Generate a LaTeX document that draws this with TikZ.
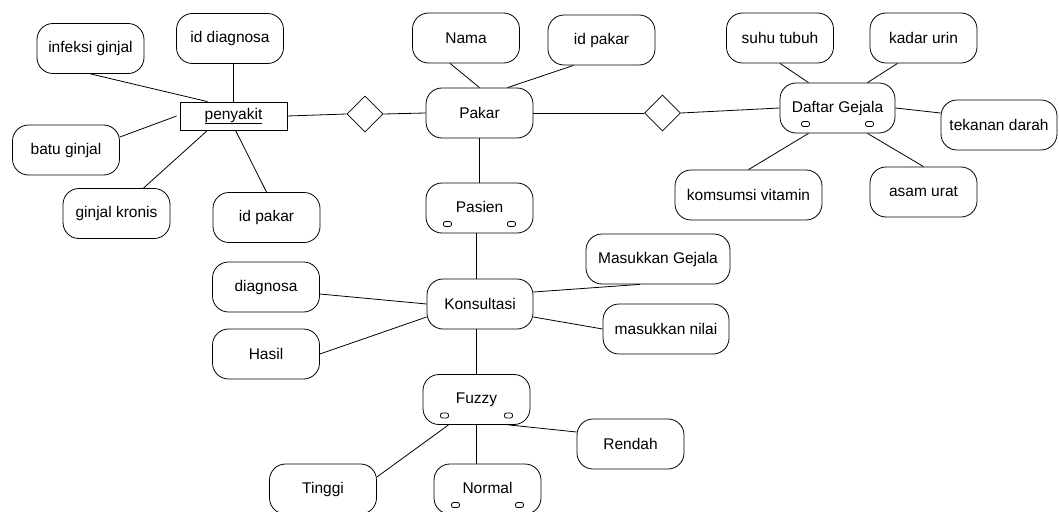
\documentclass[tikz,border=0pt]{standalone}
\usepackage{fontspec}
\setmainfont{Liberation Sans}
\usetikzlibrary{shapes.geometric}
\tikzset{
  attr/.style={draw, line width=0.8pt, rounded corners=16pt, minimum width=107pt, minimum height=50pt, inner sep=0pt, font=\fontsize{15.5}{18}\selectfont},
  entity/.style={draw, line width=0.8pt, minimum width=107pt, minimum height=28pt, inner sep=0pt, font=\fontsize{15.5}{18}\selectfont},
  rel/.style={draw, line width=0.8pt, diamond, shape aspect=1, minimum width=36pt, minimum height=36pt, inner sep=0pt},
  slot/.style={draw, line width=0.8pt, rounded corners=2pt, minimum width=8pt, minimum height=5pt, inner sep=0pt},
  link/.style={line width=0.8pt}
}
\newcommand\slotpair[1]{%
  \node[slot] (#1-sl) at ([xshift=-32pt,yshift=-16pt]#1.center) {};
  \node[slot] (#1-sr) at ([xshift=32pt,yshift=-16pt]#1.center) {};
}
\begin{document}
\begin{tikzpicture}[x=1pt,y=-1pt]
\useasboundingbox (0,0) rectangle (1059,511);
\fill[white] (0,0) rectangle (1059,511);

% left cluster
\node[attr] (infeksi) at (90.5,48.5) {infeksi ginjal};
\node[attr] (iddiag) at (230,38.5) {id diagnosa};
\node[entity] (penyakit) at (233.5,116) {\underline{penyakit}};
\node[attr] (batu) at (66,150) {batu ginjal};
\node[attr] (kronis) at (116.5,213.5) {ginjal kronis};
\node[attr] (idpakarL) at (266.5,217.5) {id pakar};
\node[rel] (dL) at (365,114) {};

% centre
\node[attr] (nama) at (466,38) {Nama};
\node[attr] (idpakarT) at (601.5,40) {id pakar};
\node[attr] (pakar) at (479.5,113) {Pakar};
\node[attr] (pasien) at (479.5,208) {\raisebox{3pt}{Pasien}};
\slotpair{pasien}
\node[rel] (dR) at (662.5,113) {};

% right cluster
\node[attr] (sunu) at (780,38) {suhu tubuh};
\node[attr] (kadar) at (923.5,38) {kadar urin};
\node[attr, minimum width=115pt] (gejala) at (837.5,108) {\raisebox{3pt}{Daftar Gejala}};
\slotpair{gejala}
\node[attr, minimum width=116pt] (tekanan) at (999,125) {tekanan darah};
\node[attr, minimum width=147pt] (komsumsi) at (748.5,195) {komsumsi vitamin};
\node[attr] (asam) at (923.5,192) {asam urat};

% lower
\node[attr, minimum width=144pt] (masukG) at (658,259) {Masukkan Gejala};
\node[attr] (diagnosa) at (266,287) {diagnosa};
\node[attr, minimum width=106pt] (konsul) at (480,304) {Konsultasi};
\node[attr, minimum width=126pt] (masukN) at (666,329) {masukkan nilai};
\node[attr] (hasil) at (266,354) {Hasil};
\node[attr] (fuzzy) at (476.5,399.5) {\raisebox{3pt}{Fuzzy}};
\slotpair{fuzzy}
\node[attr] (rendah) at (630.5,444) {Rendah};
\node[attr] (tinggi) at (323,489) {Tinggi};
\node[attr] (normal) at (487.5,489) {\raisebox{3pt}{Normal}};
\slotpair{normal}

% connectors: penyakit
\draw[link] (infeksi.south) -- ([xshift=-26pt]penyakit.north);
\draw[link] (penyakit.north) -- (penyakit.north |- iddiag.south);
\draw[link] ([yshift=13pt]batu.east) -- ([xshift=-3pt]penyakit.west);
\draw[link] ([xshift=27pt]kronis.north) -- ([xshift=-26pt]penyakit.south);
\draw[link] (idpakarL.north) -- ([xshift=2pt]penyakit.south);
\draw[link] (penyakit.east) -- (dL.west);
\draw[link] (dL.east) -- (pakar.west);

% pakar
\draw[link] ([xshift=-16pt]nama.south) -- (pakar.north);
\draw[link] ([xshift=-28pt]idpakarT.south) -- ([xshift=28pt]pakar.north);
\draw[link] (pakar.east) -- (dR.west);
\draw[link] (dR.east) -- (gejala.west);
\draw[link] (pakar.south) -- (pasien.north);

% gejala
\draw[link] (sunu.south) -- ([xshift=-29pt]gejala.north);
\draw[link] ([xshift=-26pt]kadar.south) -- ([xshift=30pt]gejala.north);
\draw[link] (gejala.east) -- ([yshift=12pt]tekanan.west);
\draw[link] ([xshift=-29pt]gejala.south) -- (komsumsi.north);
\draw[link] ([xshift=30pt]gejala.south) -- (asam.north);

% konsultasi
\draw[link] ([xshift=-3pt]pasien.south) -- ([xshift=-3pt]pasien.south |- konsul.north);
\draw[link] ([yshift=-7pt]diagnosa.east) -- (konsul.west);
\draw[link] (hasil.east) -- ([yshift=-13pt]konsul.west);
\draw[link] ([yshift=12pt]konsul.east) -- ([xshift=-18pt]masukG.south);
\draw[link] ([yshift=-13pt]konsul.east) -- (masukN.west);
\draw[link] (fuzzy.north) -- (fuzzy.north |- konsul.south);

% fuzzy
\draw[link] ([xshift=32pt]fuzzy.south) -- ([yshift=12pt]rendah.west);
\draw[link] ([xshift=-28pt]fuzzy.south) -- ([yshift=12pt]tinggi.east);
\draw[link] (fuzzy.south) -- (fuzzy.south |- normal.north);
\end{tikzpicture}
\end{document}
